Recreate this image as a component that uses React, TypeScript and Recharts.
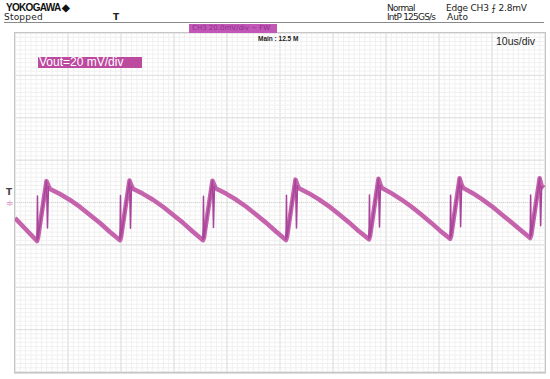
import { LineChart, Line, XAxis, YAxis, CartesianGrid, ReferenceLine } from "recharts";

// scope capture: 10 us/div over 10 divisions, 20 mV/div over 8 divisions
const traceTimeUs = [
  0,
  4.15, 4.24, 4.34, 5.94, 6.13, 6.32, 6.6, 8.49, 10.37, 12.26, 14.15, 16.04, 17.92,
  19.81, 19.9, 20.0, 21.6, 21.79, 21.98, 22.26, 24.15, 26.03, 27.92, 29.81, 31.7, 33.58,
  35.47, 35.56, 35.66, 37.26, 37.45, 37.64, 37.92, 39.81, 41.69, 43.58, 45.47, 47.36, 49.24,
  51.13, 51.22, 51.32, 52.92, 53.11, 53.3, 53.58, 55.47, 57.35, 59.24, 61.13, 63.02, 64.9,
  66.79, 66.88, 66.98, 68.58, 68.77, 68.96, 69.24, 71.08, 72.91, 74.75, 76.59, 78.43, 80.26,
  82.1, 82.19, 82.29, 83.89, 84.08, 84.27, 84.55, 86.36, 88.16, 89.97, 91.78, 93.59, 95.39,
  97.2, 97.29, 97.39, 98.99, 99.18, 99.37, 99.8,
];

const voutMv = [
  -7.3,
  -18.2, 3.1, -16.7, 10.1, -12.0, 7.8, 6.4, 4.0, 1.2, -2.1, -5.9, -9.7, -13.9,
  -17.8, 3.3, -16.4, 10.4, -12.2, 7.9, 6.5, 4.1, 1.3, -2.0, -5.8, -9.6, -13.8,
  -17.8, 3.0, -16.5, 10.3, -11.8, 8.0, 6.6, 4.2, 1.4, -1.9, -5.7, -9.5, -13.7,
  -17.7, 3.4, -16.3, 10.8, -12.0, 8.2, 6.7, 4.3, 1.5, -1.8, -5.6, -9.4, -13.6,
  -17.4, 3.5, -16.0, 11.2, -11.6, 8.3, 6.8, 4.3, 1.4, -1.9, -5.6, -9.4, -13.4,
  -17.1, 3.4, -15.8, 11.4, -11.4, 8.4, 6.9, 4.4, 1.5, -1.8, -5.5, -9.2, -13.0,
  -16.8, 3.5, -15.5, 11.4, -11.0, 7.8, 6.9,
];

// times of the narrow switching spikes (drawn thin)
const spikeTimeUs = [4.24, 6.13, 19.9, 21.79, 35.56, 37.45, 51.22, 53.11, 66.88, 68.77, 82.19, 84.08, 97.29, 99.18];

const majorX = [0, 10, 20, 30, 40, 50, 60, 70, 80, 90, 100];
const majorY = [-80, -60, -40, -20, 0, 20, 40, 60, 80];
const minorX = Array.from({ length: 101 }, (_, i) => i);
const minorY = Array.from({ length: 81 }, (_, i) => -80 + i * 2);

const isSpike = (i: number) => i >= 0 && i < traceTimeUs.length && spikeTimeUs.includes(traceTimeUs[i]);
const data = traceTimeUs.map((t, i) => ({
  t,
  body: isSpike(i) ? null : voutMv[i],
  spike: isSpike(i) || isSpike(i - 1) || isSpike(i + 1) ? voutMv[i] : null,
}));

const font = "'DejaVu Sans', sans-serif";
const sans = "'Liberation Sans', Arial, sans-serif";

function Txt({ x, y, size, children, style }: any) {
  return (
    <div
      style={{
        position: "absolute",
        left: x,
        top: y,
        fontSize: size,
        lineHeight: 1,
        whiteSpace: "nowrap",
        color: "#333",
        fontFamily: font,
        ...style,
      }}
    >
      {children}
    </div>
  );
}

export default function App() {
  return (
    <div style={{ position: "absolute", left: 0, top: 0, width: 550, height: 379, background: "#fff", overflow: "hidden" }}>
      <LineChart width={550} height={379} data={data} margin={{ top: 33, right: 5, bottom: 7, left: 15 }}>
        <XAxis
          dataKey="t"
          type="number"
          domain={[0, 100]}
          ticks={minorX}
          allowDataOverflow
          height={0}
          tick={false}
          axisLine={false}
          tickLine={false}
        />
        <YAxis
          type="number"
          domain={[-80, 80]}
          ticks={minorY}
          allowDataOverflow
          width={0}
          tick={false}
          axisLine={false}
          tickLine={false}
        />
        <CartesianGrid
          stroke="#f0f0f0"
          strokeWidth={1}
          verticalCoordinatesGenerator={({ offset }: any) =>
            minorX.map((v) => offset.left + (v / 100) * offset.width)
          }
          horizontalCoordinatesGenerator={({ offset }: any) =>
            minorY.map((v) => offset.top + ((80 - v) / 160) * offset.height)
          }
        />
        {majorX.map((x) => (
          <ReferenceLine key={"x" + x} x={x} stroke={x === 50 ? "#d2d2d2" : "#dedede"} strokeDasharray={x === 50 ? "1 1" : undefined} />
        ))}
        {majorY.map((y) => (
          <ReferenceLine key={"y" + y} y={y} stroke={y === 0 ? "#d2d2d2" : "#dedede"} strokeDasharray={y === 0 ? "1 1" : undefined} />
        ))}
        <Line
          dataKey="body"
          type="linear"
          stroke="#bf52a3"
          strokeWidth={4.5}
          strokeOpacity={0.9}
          strokeLinejoin="round"
          connectNulls
          dot={false}
          activeDot={false}
          isAnimationActive={false}
        />
        <Line
          dataKey="spike"
          type="linear"
          stroke="#a8459a"
          strokeWidth={1.5}
          strokeLinejoin="round"
          dot={false}
          activeDot={false}
          isAnimationActive={false}
        />
      </LineChart>

      {/* plot frame */}
      <div
        style={{
          position: "absolute",
          left: 14,
          top: 32,
          width: 530,
          height: 339,
          border: "1px solid #c6c6c6",
          boxShadow: "0 1px 0 #dedede",
          pointerEvents: "none",
        }}
      />

      {/* header */}
      <Txt x={6} y={3} size={10} style={{ fontWeight: 700, color: "#111", letterSpacing: -0.7, fontFamily: sans }}>
        YOKOGAWA ◆
      </Txt>
      <Txt x={4} y={13} size={9} style={{ color: "#222", letterSpacing: 0.2 }}>Stopped</Txt>
      <Txt x={113} y={13} size={9} style={{ fontWeight: 700, color: "#222" }}>T</Txt>
      <div style={{ position: "absolute", left: 4, top: 22, width: 540, height: 1, background: "#8a8a8a" }} />

      <Txt x={387} y={4} size={9} style={{ color: "#222", letterSpacing: -0.8 }}>Normal</Txt>
      <Txt x={387} y={13} size={9} style={{ color: "#222", letterSpacing: -0.8 }}>IntP 125GS/s</Txt>
      <Txt x={446} y={4} size={9} style={{ color: "#222", letterSpacing: -0.2 }}>Edge CH3 ⨍ 2.8mV</Txt>
      <Txt x={447} y={13} size={9} style={{ color: "#222" }}>Auto</Txt>

      <div
        style={{
          position: "absolute",
          left: 189,
          top: 24,
          width: 88,
          height: 9,
          background: "#c257b6",
          color: "#8d2f93",
          fontSize: 7,
          lineHeight: "9px",
          fontFamily: font,
          paddingLeft: 3,
          boxSizing: "border-box",
          whiteSpace: "nowrap",
        }}
      >
        CH3 20.0mV/div ~ FW
      </div>
      <Txt x={258} y={36} size={6.5} style={{ fontWeight: 700, color: "#222", fontFamily: sans }}>Main : 12.5 M</Txt>
      <Txt x={496} y={36} size={10.5} style={{ color: "#222", fontFamily: sans }}>10us/div</Txt>

      <div
        style={{
          position: "absolute",
          left: 38,
          top: 57,
          width: 104,
          height: 11,
          background: "#bc4a9f",
          color: "#fff",
          fontSize: 12,
          lineHeight: "11px",
          fontFamily: sans,
          paddingLeft: 1,
          boxSizing: "border-box",
          whiteSpace: "nowrap",
        }}
      >
        Vout=20 mV/div
      </div>

      {/* left edge markers */}
      <Txt x={6} y={188} size={9} style={{ fontWeight: 700, color: "#444" }}>T</Txt>
      <Txt x={6} y={199} size={9} style={{ color: "#d48ac0" }}>≑</Txt>
    </div>
  );
}
